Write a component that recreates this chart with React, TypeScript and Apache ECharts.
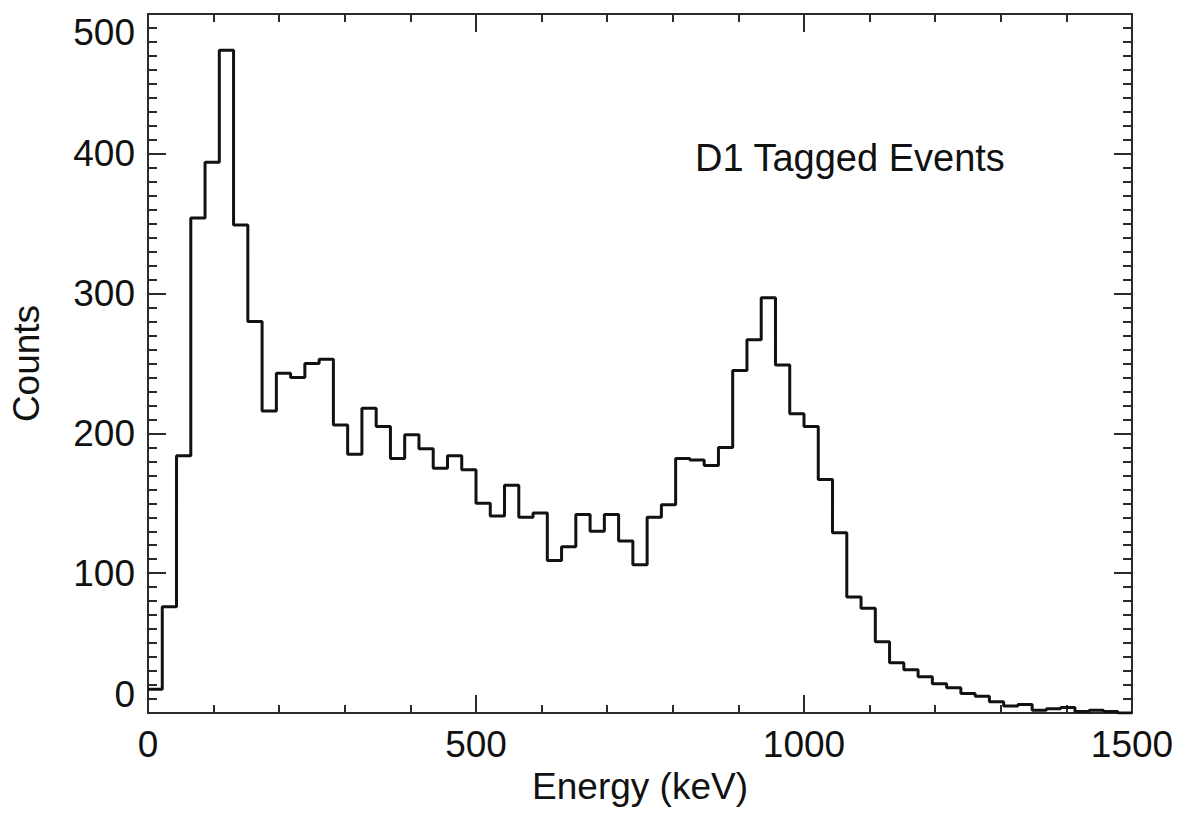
import React, { useEffect, useRef } from "react";
import * as echarts from "echarts";

// Histogram: 69 equal bins spanning 0–1500 keV
const energyMin = 0;
const energyMax = 1500;
const binCount = 69;
const counts = [
  17, 76, 184, 354, 394, 474, 349, 280, 216, 243,
  240, 250, 253, 206, 185, 218, 205, 182, 199, 189,
  175, 184, 174, 150, 141, 163, 140, 143, 109, 119,
  142, 130, 142, 123, 106, 140, 149, 182, 181, 177,
  190, 245, 267, 297, 249, 214, 205, 167, 129, 83,
  75, 51, 36, 31, 26, 21, 18, 14, 12, 8,
  5, 6, 2, 3, 4, 1, 2, 1, 0,
];
const yMin = 0;
const yMax = 500;
const yStep = 100;
const xStep = 500;
const annotation = "D1 Tagged Events";
const xTitle = "Energy (keV)";
const yTitle = "Counts";

const FONT = "'Liberation Sans', Arial, Helvetica, sans-serif";
const AXIS_COLOR = "#2a2a2a";

export default function App() {
  const ref = useRef<HTMLDivElement>(null);

  useEffect(() => {
    if (!ref.current) return;
    const chart = echarts.init(ref.current, undefined, { renderer: "svg" });
    const binWidth = (energyMax - energyMin) / binCount;
    const stepData: [number, number][] = counts.map((c, i) => [energyMin + i * binWidth, c]);
    stepData.push([energyMax, counts[counts.length - 1]]);

    const axisLineStyle = { color: AXIS_COLOR, width: 2 };
    const labelStyle = { color: "#111", fontFamily: FONT, fontSize: 37 };
    const plain = (v: number) => String(v);

    chart.setOption({
      animation: false,
      backgroundColor: "#fff",
      grid: { left: 148, right: 53, top: 14, bottom: 105, containLabel: false },
      xAxis: [
        {
          type: "value",
          min: energyMin,
          max: energyMax,
          interval: xStep,
          position: "bottom",
          name: xTitle,
          nameLocation: "middle",
          nameGap: 55,
          nameTextStyle: { color: "#111", fontFamily: FONT, fontSize: 37 },
          axisLine: { show: true, lineStyle: axisLineStyle },
          axisTick: { show: true, inside: true, length: 18, lineStyle: axisLineStyle },
          minorTick: { show: true, splitNumber: 5, length: 8, lineStyle: { color: AXIS_COLOR, width: 2 } },
          axisLabel: { ...labelStyle, margin: 13, formatter: plain },
          splitLine: { show: false },
          minorSplitLine: { show: false },
        },
        {
          type: "value",
          min: energyMin,
          max: energyMax,
          interval: xStep,
          position: "top",
          axisLine: { show: true, onZero: false, lineStyle: axisLineStyle },
          axisTick: { show: true, inside: true, length: 18, lineStyle: axisLineStyle },
          minorTick: { show: true, splitNumber: 5, length: 8, lineStyle: { color: AXIS_COLOR, width: 2 } },
          axisLabel: { show: false },
          splitLine: { show: false },
        },
      ],
      yAxis: [
        {
          type: "value",
          min: yMin,
          max: yMax,
          interval: yStep,
          position: "left",
          name: yTitle,
          nameLocation: "middle",
          nameGap: 103,
          nameRotate: 90,
          nameTextStyle: { color: "#111", fontFamily: FONT, fontSize: 37 },
          axisLine: { show: true, lineStyle: axisLineStyle },
          axisTick: { show: true, inside: true, length: 18, lineStyle: axisLineStyle },
          minorTick: { show: true, splitNumber: 10, length: 9, lineStyle: { color: AXIS_COLOR, width: 2 } },
          axisLabel: {
            ...labelStyle,
            margin: 13,
            formatter: plain,
            verticalAlignMinLabel: "bottom",
            verticalAlignMaxLabel: "top",
          },
          splitLine: { show: false },
          minorSplitLine: { show: false },
        },
        {
          type: "value",
          min: yMin,
          max: yMax,
          interval: yStep,
          position: "right",
          axisLine: { show: true, onZero: false, lineStyle: axisLineStyle },
          axisTick: { show: true, inside: true, length: 18, lineStyle: axisLineStyle },
          minorTick: { show: true, splitNumber: 10, length: 9, lineStyle: { color: AXIS_COLOR, width: 2 } },
          axisLabel: { show: false },
          splitLine: { show: false },
        },
      ],
      series: [
        {
          type: "line",
          xAxisIndex: 0,
          yAxisIndex: 0,
          step: "end",
          data: stepData,
          showSymbol: false,
          symbol: "none",
          clip: true,
          lineStyle: { color: "#111", width: 3 },
          z: 1,
        },
      ],
      graphic: [
        {
          type: "text",
          left: 695,
          top: 139,
          style: {
            text: annotation,
            fill: "#111",
            font: `38px ${FONT}`,
          },
        },
      ],
    });

    return () => chart.dispose();
  }, []);

  return (
    <div
      ref={ref}
      style={{ position: "fixed", left: 0, top: 0, width: 1185, height: 818, background: "#fff" }}
    />
  );
}
